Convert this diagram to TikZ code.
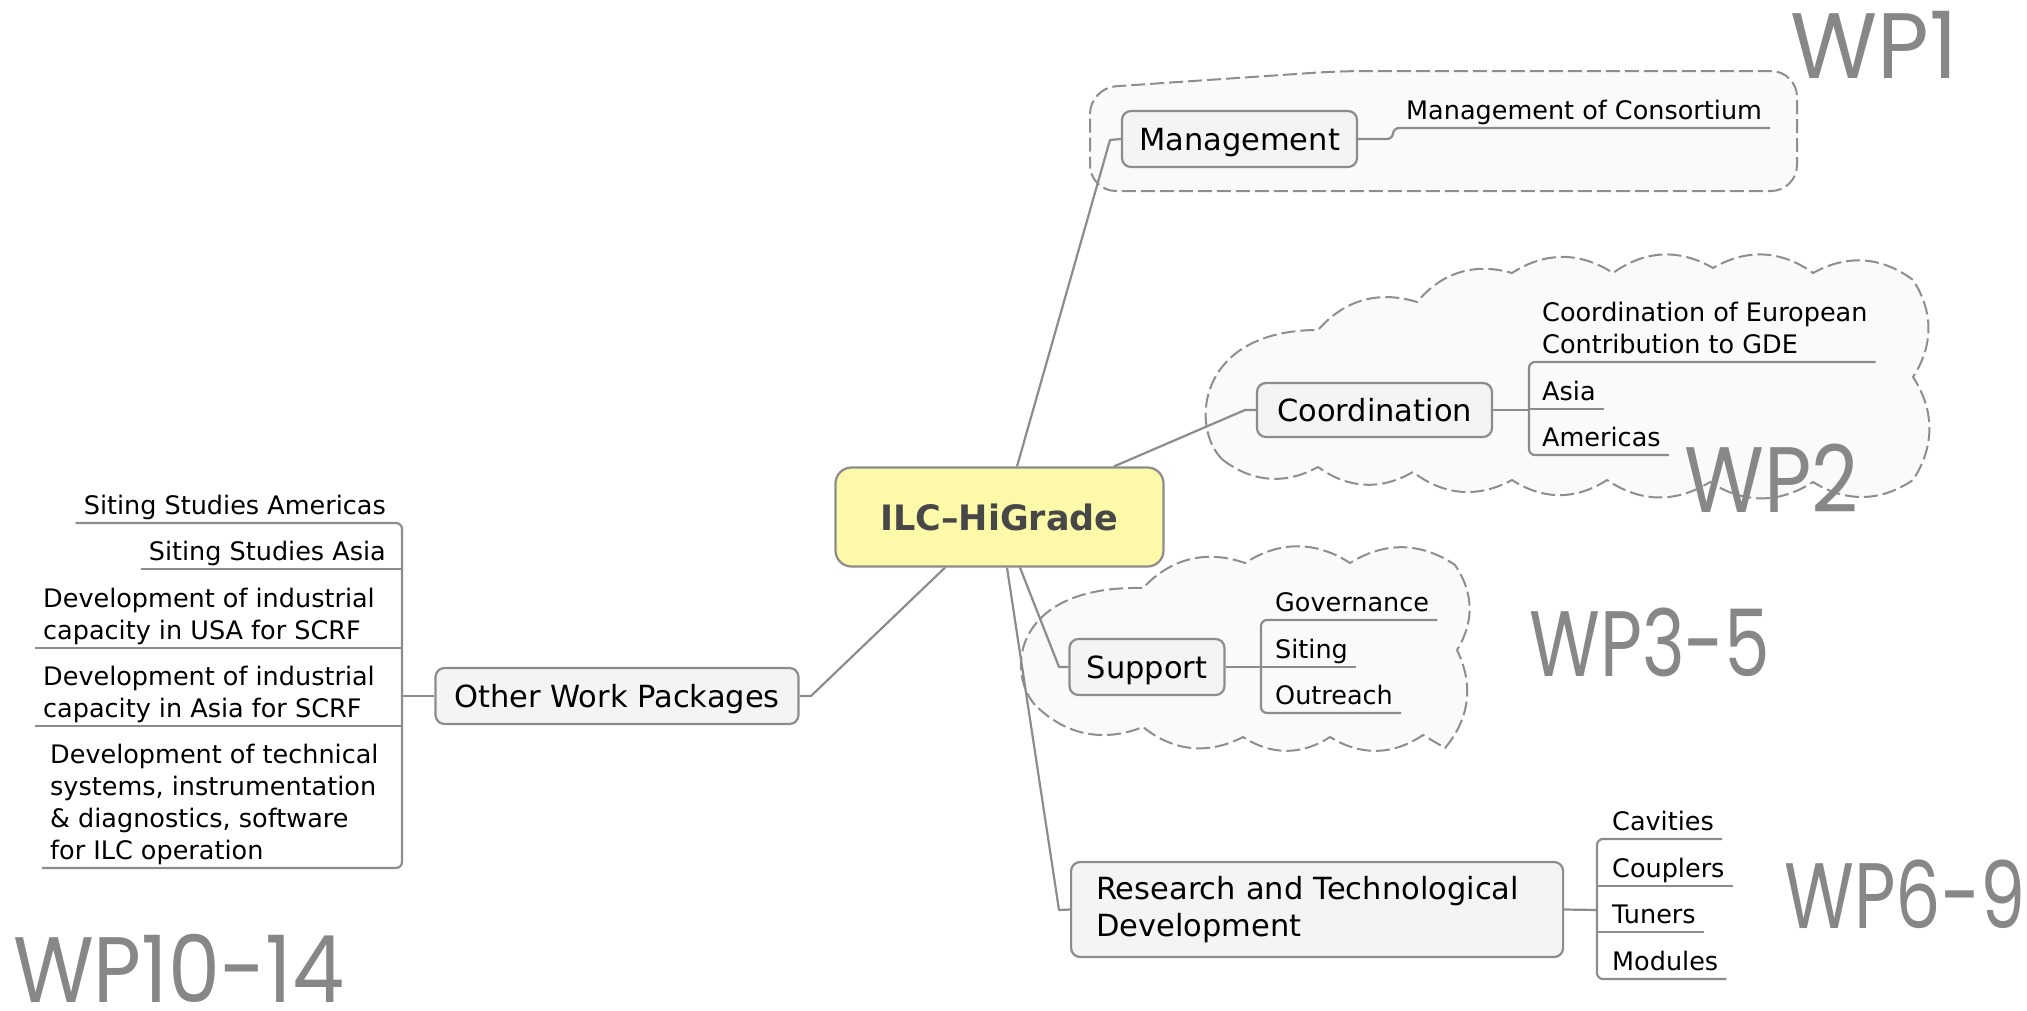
\documentclass[tikz,border=0pt]{standalone}
\usepackage{fontspec}
\usepackage{graphicx}
\setmainfont{DejaVu Sans}
\newfontfamily\wpfamily{Poppins}
\usetikzlibrary{calc}
\definecolor{linegray}{HTML}{8C8C8C}
\definecolor{boxfill}{HTML}{F4F4F4}
\definecolor{cloudfill}{HTML}{FAFAFA}
\definecolor{cloudline}{HTML}{8E8E8E}
\definecolor{ilcfill}{HTML}{FCFAA8}
\definecolor{ilctext}{HTML}{474747}
\definecolor{wpgray}{HTML}{878787}
\newcommand\leafsize{\fontsize{25.5}{32}\selectfont}
\newcommand\topicsize{\fontsize{30.5}{37.5}\selectfont}
\newcommand\ilcsize{\fontsize{35}{42}\selectfont\bfseries}
\newcommand\wpsize{\wpfamily\fontsize{93}{93}\selectfont}
\newcommand\wplabel[2]{\scalebox{#1}[1]{#2}}
\begin{document}
\begin{tikzpicture}[x=1pt,y=-1pt,
  conn/.style={draw=linegray, line width=2.2pt, line join=round},
  topic/.style={draw=linegray, line width=2.2pt, fill=boxfill, rounded corners=9pt, font=\topicsize, inner sep=0pt, align=center},
  oneline/.style={text height=22pt, text depth=0pt},
  leaf/.style={font=\leafsize, inner xsep=8pt, inner ysep=0pt, align=left, execute at end node={\rule[-8pt]{0pt}{8pt}}},
  cloudshape/.style={draw=cloudline, fill=cloudfill, line width=2pt, dash pattern=on 14pt off 5pt},
  bump/.style={bend left=33},
  wp/.style={font=\wpsize, text=wpgray, inner sep=0pt, anchor=base west}
]
\useasboundingbox (0,0) rectangle (2027,1010);

% clouds / boundaries
\path[cloudshape, rounded corners=26pt] (1090,140) -- (1090,88) -- (1340,71) -- (1797,71) -- (1797,191) -- (1090,191) -- cycle;
\path[cloudshape] (1223,460) .. controls (1190,430) and (1195,330) .. (1318,330) to[bump] (1417,302) to[bump] (1512,273) to[bump] (1613,273) to[bump] (1713,268) to[bump] (1813,273) to[bump] (1913,280) to[bump] (1913,377) to[bump] (1913,480) to[bump] (1813,482) to[bump] (1710,482) to[bump] (1607,480) to[bump] (1512,480) to[bump] (1413,472) to[bump] (1318,467) to[bump] (1223,460) -- cycle;
\path[cloudshape] (1035,705) .. controls (1005,670) and (1015,585) .. (1143,588) to[bump] (1245,563) to[bump] (1350,563) to[bump] (1455,565) to[bump] (1457,650) to[bump] (1445,748) -- (1423,735) to[bump] (1330,737) to[bump] (1243,737) to[bump] (1143,727) to[bump] (1035,705) -- cycle;

% topic nodes
\node[topic, fill=ilcfill, font=\ilcsize, text=ilctext, text height=26pt, text depth=0pt, minimum width=328pt, minimum height=99pt, rounded corners=16pt] (ilc) at (999.5,517) {ILC–HiGrade};
\node[topic, oneline, minimum width=235pt, minimum height=56pt] (mgmt) at (1239.5,139) {Management};
\node[topic, oneline, minimum width=235pt, minimum height=54pt] (coord) at (1374.5,410) {Coordination};
\node[topic, oneline, minimum width=155pt, minimum height=56pt] (support) at (1147,667) {Support};
\node[topic, minimum height=95pt, inner xsep=25pt, text width=442pt, align=left, anchor=west] (rtd) at (1070,909.5) {Research and Technological\\Development};
\node[topic, oneline, minimum width=363pt, minimum height=56pt] (owp) at (617,696) {Other Work Packages};

% leaves
\node[leaf, anchor=south west] (mc) at (1398,128) {Management of Consortium};
\node[leaf, anchor=south west] (c1) at (1534,362) {Coordination of European\\Contribution to GDE};
\node[leaf, anchor=south west] (c2) at (1534,409) {Asia};
\node[leaf, anchor=south west] (c3) at (1534,455) {Americas};
\node[leaf, anchor=south west] (s1) at (1267,620) {Governance};
\node[leaf, anchor=south west] (s2) at (1267,667) {Siting};
\node[leaf, anchor=south west] (s3) at (1267,713) {Outreach};
\node[leaf, anchor=south west] (r1) at (1604,839) {Cavities};
\node[leaf, anchor=south west] (r2) at (1604,886) {Couplers};
\node[leaf, anchor=south west] (r3) at (1604,932) {Tuners};
\node[leaf, anchor=south west] (r4) at (1604,979) {Modules};
\node[leaf, anchor=south east] (l1) at (394,523) {Siting Studies Americas};
\node[leaf, anchor=south east] (l2) at (394,569) {Siting Studies Asia};
\node[leaf, anchor=south west] (l3) at (35,648) {Development of industrial\\capacity in USA for SCRF};
\node[leaf, anchor=south west] (l4) at (35,726) {Development of industrial\\capacity in Asia for SCRF};
\node[leaf, anchor=south west] (l5) at (42,868) {Development of technical\\systems, instrumentation\\\& diagnostics, software\\for ILC operation};

% junction coordinates
\coordinate (bM) at (1393,139);
\coordinate (bC) at (1529,410);
\coordinate (bS) at (1261,667);
\coordinate (bR) at (1597,910);
\coordinate (bL) at (402,696);
\coordinate (jM) at (1110,140);
\coordinate (jC) at (1245,410);
\coordinate (jS) at (1059,667);
\coordinate (jR) at (1059,910);
\coordinate (jO) at (811,696);

% main connectors
\draw[conn] ([xshift=17.5pt]ilc.north) -- (jM) -- (mgmt.west);
\draw[conn] ([xshift=114.5pt]ilc.north) -- (jC) -- (coord.west);
\draw[conn] ([xshift=20.5pt]ilc.south) -- (jS) -- (support.west);
\draw[conn] ([xshift=7.5pt]ilc.south) -- (jR) -- (rtd.west);
\draw[conn] ([xshift=-54.5pt]ilc.south) -- (jO) -- (owp.east);

% leaf connectors
\draw[conn, rounded corners=6pt] (mgmt.east) -- (bM) -- (bM |- mc.south) -- (mc.south east);
\draw[conn] (coord.east) -- (bC);
\draw[conn, rounded corners=6pt] (c1.south east) -- (bC |- c1.south) -- (bC |- c3.south) -- (c3.south east);
\draw[conn] (bC |- c2.south) -- (c2.south east);
\draw[conn] (support.east) -- (bS);
\draw[conn, rounded corners=6pt] (s1.south east) -- (bS |- s1.south) -- (bS |- s3.south) -- (s3.south east);
\draw[conn] (bS |- s2.south) -- (s2.south east);
\draw[conn] (rtd.east) -- (bR);
\draw[conn, rounded corners=6pt] (r1.south east) -- (bR |- r1.south) -- (bR |- r4.south) -- (r4.south east);
\draw[conn] (bR |- r2.south) -- (r2.south east);
\draw[conn] (bR |- r3.south) -- (r3.south east);
\draw[conn] (owp.west) -- (bL);
\draw[conn, rounded corners=6pt] (l1.south west) -- (bL |- l1.south) -- (bL |- l5.south) -- (l5.south west);
\draw[conn] (bL |- l2.south) -- (l2.south west);
\draw[conn] (bL |- l3.south) -- (l3.south west);
\draw[conn] (bL |- l4.south) -- (l4.south west);

% work package labels
\node[wp] (wp1) at (1790,78) {\wplabel{0.96}{WP1}};
\node[wp] (wp2) at (1684,512) {\wplabel{0.88}{WP2}};
\node[wp] (wp35) at (1529,676) {\wplabel{0.78}{WP3-5}};
\node[wp] (wp69) at (1784,928) {\wplabel{0.77}{WP6-9}};
\node[wp] (wp1014) at (13,1002) {\wplabel{0.89}{WP10-14}};
\end{tikzpicture}
\end{document}
